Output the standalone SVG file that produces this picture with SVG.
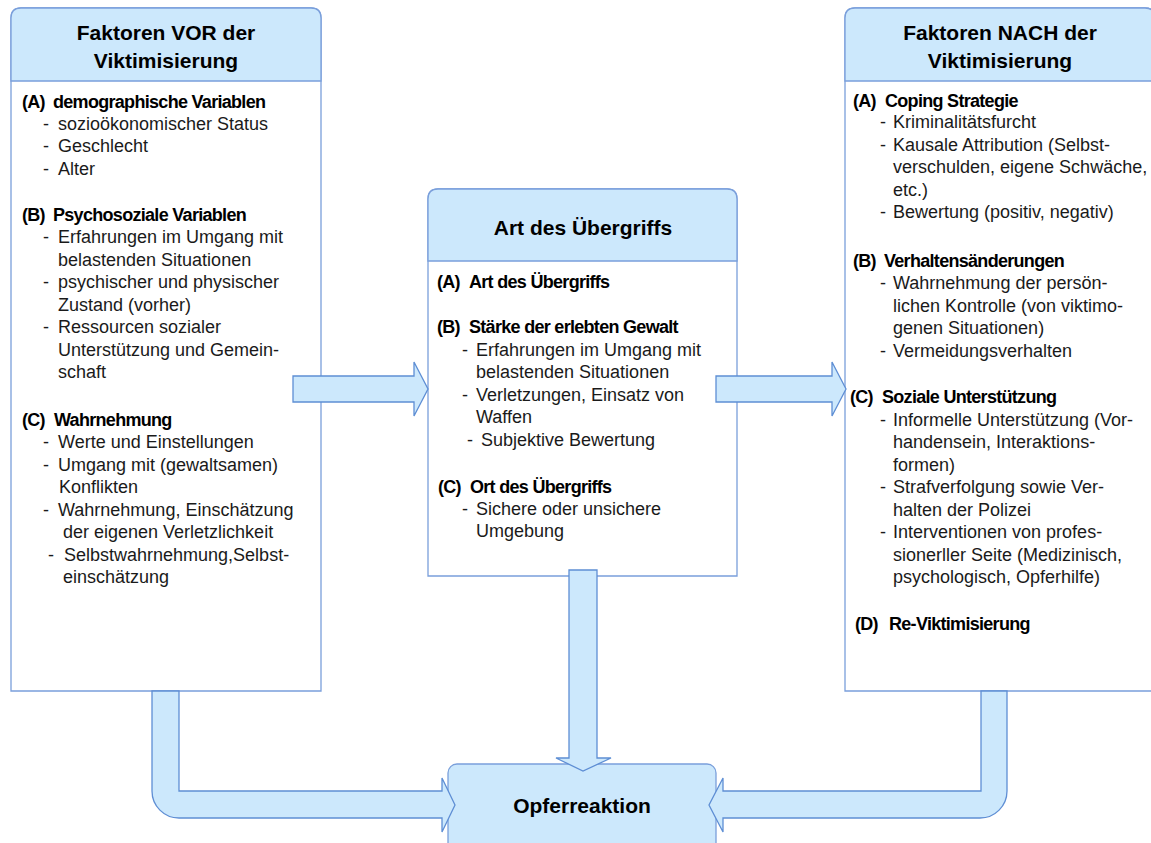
<svg xmlns="http://www.w3.org/2000/svg" width="1151" height="843" viewBox="0 0 1151 843">
<style>
.box{fill:#ffffff;stroke:#7A9FDB;stroke-width:1.3}
.hdr{fill:#CCE8FC;stroke:#7A9FDB;stroke-width:1.3}
.arr{fill:#CCE8FC;stroke:#5E8ED4;stroke-width:1.3;stroke-linejoin:miter}
.title{font-family:"Liberation Sans",Arial,sans-serif;font-weight:bold;font-size:21px;fill:#000;text-anchor:middle}
.sec{font-family:"Liberation Sans",Arial,sans-serif;font-weight:bold;font-size:18px;letter-spacing:-0.7px;fill:#000}
.t{font-family:"Liberation Sans",Arial,sans-serif;font-size:18px;fill:#1a1a1a}
</style>
<rect width="1151" height="843" fill="#ffffff"/>

<g id="node-vor">
<path class="box" d="M11,691 L11,18 Q11,8 21,8 L311,8 Q321,8 321,18 L321,691 Z"/>
<path class="hdr" d="M11,81 L11,18 Q11,8 21,8 L311,8 Q321,8 321,18 L321,81 Z"/>
<text class="title" x="166" y="40">Faktoren VOR der</text>
<text class="title" x="166" y="68">Viktimisierung</text>
<text class="sec" x="22" y="108">(A)</text><text class="sec" x="53" y="108">demographische Variablen</text>
<text class="t" x="43" y="130">-</text><text class="t" x="58" y="130">sozioökonomischer Status</text>
<text class="t" x="43" y="152">-</text><text class="t" x="58" y="152">Geschlecht</text>
<text class="t" x="43" y="175">-</text><text class="t" x="58" y="175">Alter</text>
<text class="sec" x="22" y="221">(B)</text><text class="sec" x="53" y="221">Psychosoziale Variablen</text>
<text class="t" x="43" y="243">-</text><text class="t" x="58" y="243">Erfahrungen im Umgang mit</text>
<text class="t" x="58" y="266">belastenden Situationen</text>
<text class="t" x="43" y="288">-</text><text class="t" x="58" y="288">psychischer und physischer</text>
<text class="t" x="58" y="311">Zustand (vorher)</text>
<text class="t" x="43" y="333">-</text><text class="t" x="58" y="333">Ressourcen sozialer</text>
<text class="t" x="58" y="356">Unterstützung und Gemein-</text>
<text class="t" x="58" y="378">schaft</text>
<text class="sec" x="22" y="426">(C)</text><text class="sec" x="54" y="426">Wahrnehmung</text>
<text class="t" x="43" y="448">-</text><text class="t" x="58" y="448">Werte und Einstellungen</text>
<text class="t" x="43" y="471">-</text><text class="t" x="58" y="471">Umgang mit (gewaltsamen)</text>
<text class="t" x="59" y="493">Konflikten</text>
<text class="t" x="43" y="516">-</text><text class="t" x="58" y="516">Wahrnehmung, Einschätzung</text>
<text class="t" x="63" y="538">der eigenen Verletzlichkeit</text>
<text class="t" x="48" y="561">-</text><text class="t" x="64" y="561">Selbstwahrnehmung,Selbst-</text>
<text class="t" x="63" y="583">einschätzung</text>
</g>

<g id="node-art">
<path class="box" d="M428,576 L428,199 Q428,189 438,189 L727,189 Q737,189 737,199 L737,576 Z"/>
<path class="hdr" d="M428,261 L428,199 Q428,189 438,189 L727,189 Q737,189 737,199 L737,261 Z"/>
<text class="title" x="583" y="235">Art des Übergriffs</text>
<text class="sec" x="437" y="288">(A)</text><text class="sec" x="469" y="288">Art des Übergriffs</text>
<text class="sec" x="437" y="333">(B)</text><text class="sec" x="469" y="333">Stärke der erlebten Gewalt</text>
<text class="t" x="462" y="356">-</text><text class="t" x="476" y="356">Erfahrungen im Umgang mit</text>
<text class="t" x="476" y="378">belastenden Situationen</text>
<text class="t" x="462" y="401">-</text><text class="t" x="476" y="401">Verletzungen, Einsatz von</text>
<text class="t" x="476" y="423">Waffen</text>
<text class="t" x="467" y="446">-</text><text class="t" x="481" y="446">Subjektive Bewertung</text>
<text class="sec" x="438" y="493">(C)</text><text class="sec" x="470" y="493">Ort des Übergriffs</text>
<text class="t" x="462" y="515">-</text><text class="t" x="476" y="515">Sichere oder unsichere</text>
<text class="t" x="476" y="537">Umgebung</text>
</g>

<g id="node-nach">
<path class="box" d="M845,691 L845,18 Q845,8 855,8 L1145,8 Q1155,8 1155,18 L1155,691 Z"/>
<path class="hdr" d="M845,81 L845,18 Q845,8 855,8 L1145,8 Q1155,8 1155,18 L1155,81 Z"/>
<text class="title" x="1000" y="40">Faktoren NACH der</text>
<text class="title" x="1000" y="68">Viktimisierung</text>
<text class="sec" x="853" y="107">(A)</text><text class="sec" x="885" y="107">Coping Strategie</text>
<text class="t" x="880" y="128">-</text><text class="t" x="893" y="128">Kriminalitätsfurcht</text>
<text class="t" x="880" y="151">-</text><text class="t" x="893" y="151">Kausale Attribution (Selbst-</text>
<text class="t" x="893" y="173">verschulden, eigene Schwäche,</text>
<text class="t" x="893" y="196">etc.)</text>
<text class="t" x="880" y="218">-</text><text class="t" x="893" y="218">Bewertung (positiv, negativ)</text>
<text class="sec" x="853" y="267">(B)</text><text class="sec" x="884" y="267">Verhaltensänderungen</text>
<text class="t" x="880" y="289">-</text><text class="t" x="893" y="289">Wahrnehmung der persön-</text>
<text class="t" x="893" y="312">lichen Kontrolle (von viktimo-</text>
<text class="t" x="893" y="334">genen Situationen)</text>
<text class="t" x="880" y="357">-</text><text class="t" x="893" y="357">Vermeidungsverhalten</text>
<text class="sec" x="850" y="403">(C)</text><text class="sec" x="882" y="403">Soziale Unterstützung</text>
<text class="t" x="880" y="426">-</text><text class="t" x="893" y="426">Informelle Unterstützung (Vor-</text>
<text class="t" x="893" y="448">handensein, Interaktions-</text>
<text class="t" x="893" y="471">formen)</text>
<text class="t" x="880" y="493">-</text><text class="t" x="893" y="493">Strafverfolgung sowie Ver-</text>
<text class="t" x="893" y="516">halten der Polizei</text>
<text class="t" x="880" y="538">-</text><text class="t" x="893" y="538">Interventionen von profes-</text>
<text class="t" x="893" y="561">sionerller Seite (Medizinisch,</text>
<text class="t" x="893" y="583">psychologisch, Opferhilfe)</text>
<text class="sec" x="855" y="630">(D)</text><text class="sec" x="889" y="630">Re-Viktimisierung</text>
</g>

<g id="node-opfer">
<rect class="hdr" x="448" y="764" width="268" height="100" rx="9" ry="9"/>
<text class="title" x="582" y="813">Opferreaktion</text>
</g>

<g id="connectors">
<path class="arr" d="M293,376 L414,376 L414,362 L428,389 L414,416 L414,402 L293,402 Z"/>
<path class="arr" d="M716,376 L832,376 L832,362 L846,389 L832,416 L832,402 L716,402 Z"/>
<path class="arr" d="M569,570 L597,570 L597,758 L611,758 L583,771 L556,758 L569,758 Z"/>
<path class="arr" d="M152,691 L179,691 L179,791 L442,791 L442,778 L455,805 L442,832 L442,818 L179,818 A27,27 0 0 1 152,791 Z"/>
<path class="arr" d="M1007,691 L981,691 L981,791 L723,791 L723,778 L709,805 L723,832 L723,818 L980,818 A27,27 0 0 0 1007,791 Z"/>
</g>
</svg>
